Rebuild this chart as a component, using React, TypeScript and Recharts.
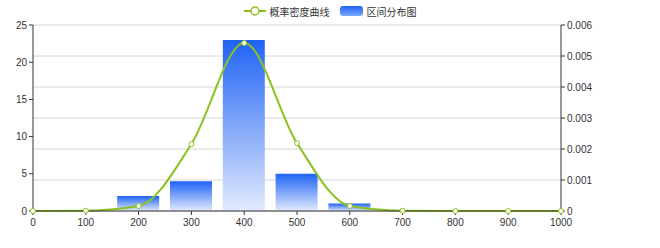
import React from "react";
import { ComposedChart, Bar, Line, XAxis, YAxis, CartesianGrid } from "recharts";

const xValues = [0, 100, 200, 300, 400, 500, 600, 700, 800, 900, 1000];
const densityValues = [0, 0.00001, 0.00016, 0.00216, 0.00542, 0.00219, 0.00016, 0.00001, 0, 0, 0];
const countValues: (number | null)[] = [null, null, 2, 4, 23, 5, 1, null, null, null, null];
const xTicks = [0, 100, 200, 300, 400, 500, 600, 700, 800, 900, 1000];
const leftTicks = [0, 5, 10, 15, 20, 25];
const rightTicks = [0, 0.001, 0.002, 0.003, 0.004, 0.005, 0.006];
const lineName = "概率密度曲线";
const barName = "区间分布图";

const data = xValues.map((x, i) => ({ x, density: densityValues[i], count: countValues[i] }));

const FONT = '"Liberation Sans", Arial, "Noto Sans CJK SC", sans-serif';
const GREEN = "#8cc21f";
const AXIS = "#333";

export default function App() {
  return (
    <div style={{ position: "absolute", left: 0, top: 0, width: 660, height: 248, fontFamily: FONT, background: "#fff" }}>
      <div style={{ position: "absolute", top: 3, left: 0, width: 660, height: 16, display: "flex", justifyContent: "center", alignItems: "center", fontSize: 10, color: "#333", fontFamily: '"Noto Sans CJK SC", sans-serif' }}>
        <svg width={22} height={12} style={{ marginRight: 4 }}>
          <line x1={0} y1={6} x2={22} y2={6} stroke={GREEN} strokeWidth={2} />
          <circle cx={11} cy={6} r={4} fill="#fff" stroke={GREEN} strokeWidth={1.5} />
        </svg>
        <span style={{ marginRight: 10 }}>{lineName}</span>
        <svg width={23} height={10} style={{ marginRight: 4 }}>
          <defs>
            <linearGradient id="legGrad" x1="0" y1="0" x2="0" y2="1">
              <stop offset="0%" stopColor="#1f63f5" />
              <stop offset="100%" stopColor="#7ea6fa" />
            </linearGradient>
          </defs>
          <rect x={0} y={0} width={23} height={10} rx={3} fill="url(#legGrad)" />
        </svg>
        <span>{barName}</span>
      </div>
      <ComposedChart width={660} height={248} data={data} margin={{ top: 25, right: 0, left: 0, bottom: 0 }} style={{ position: "absolute", left: 0, top: 0 }}>
        <defs>
          <linearGradient id="barGrad" x1="0" y1="0" x2="0" y2="1">
            <stop offset="0%" stopColor="#1f63f5" />
            <stop offset="100%" stopColor="#e2eafd" />
          </linearGradient>
        </defs>
        <CartesianGrid vertical={false} yAxisId="right" stroke="#d6d6d6" />
        <XAxis
          dataKey="x"
          type="number"
          domain={[0, 1000]}
          ticks={xTicks}
          height={37}
          axisLine={{ stroke: AXIS }}
          tickLine={{ stroke: AXIS }}
          tickSize={4}
          tickMargin={4}
          tick={{ fill: AXIS, fontSize: 10, fontFamily: FONT }}
          interval={0}
        />
        <YAxis
          yAxisId="left"
          orientation="left"
          domain={[0, 25]}
          ticks={leftTicks}
          width={33}
          axisLine={{ stroke: AXIS }}
          tickLine={{ stroke: AXIS }}
          tickSize={4}
          tick={{ fill: AXIS, fontSize: 10, fontFamily: FONT }}
          interval={0}
        />
        <YAxis
          yAxisId="right"
          orientation="right"
          domain={[0, 0.006]}
          ticks={rightTicks}
          width={99}
          axisLine={{ stroke: AXIS }}
          tickLine={{ stroke: AXIS }}
          tickSize={4}
          tick={{ fill: AXIS, fontSize: 10, fontFamily: FONT }}
          interval={0}
        />
        <Bar yAxisId="left" dataKey="count" name={barName} barSize={42} fill="url(#barGrad)" isAnimationActive={false} />
        <Line
          yAxisId="right"
          dataKey="density"
          name={lineName}
          type="monotone"
          stroke={GREEN}
          strokeWidth={2}
          dot={{ r: 2.5, fill: "#fff", stroke: GREEN, strokeWidth: 1 }}
          isAnimationActive={false}
        />
      </ComposedChart>
    </div>
  );
}
